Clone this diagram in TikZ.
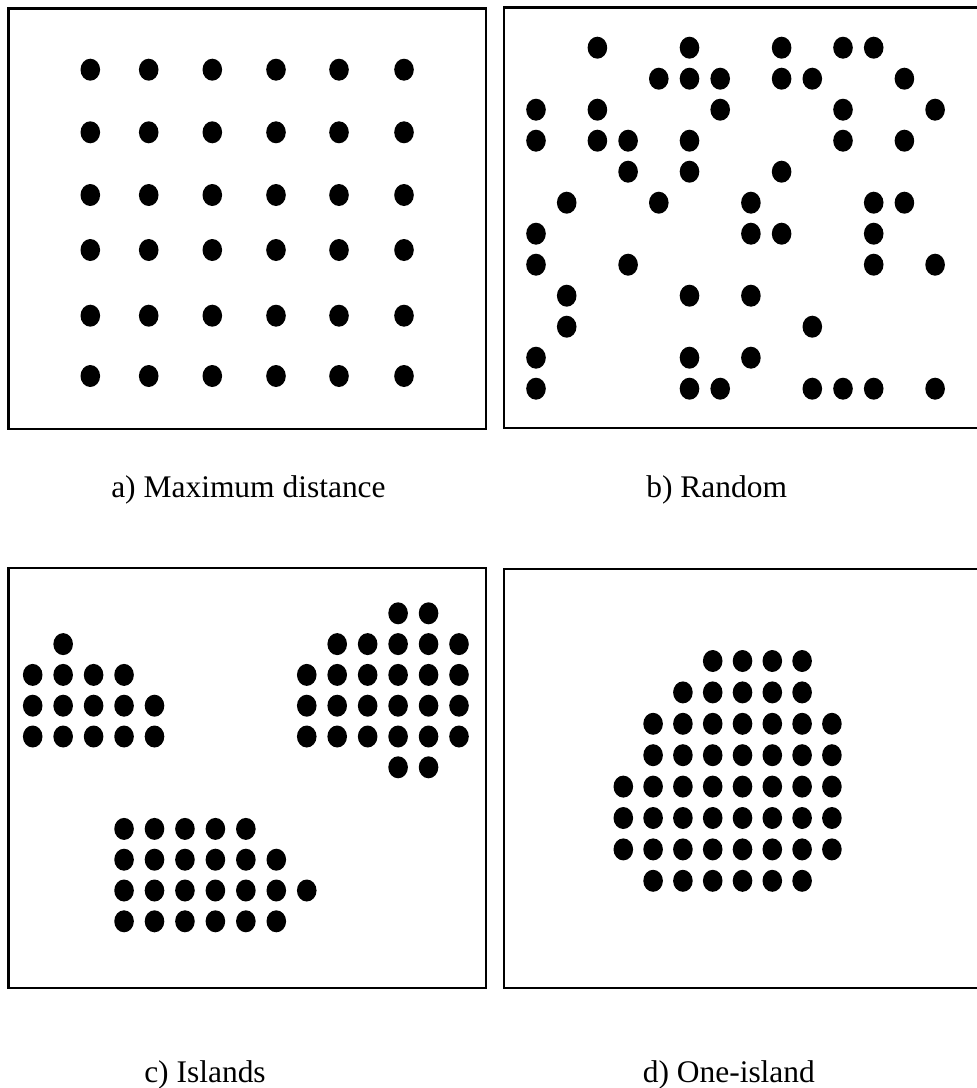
\documentclass[tikz,border=0pt]{standalone}
\usepackage{fontspec}
\setmainfont{Liberation Serif}
\begin{document}
\begin{tikzpicture}[x=0.75pt,y=-0.75pt,
  panelbox/.style={draw=black,line width=1.9pt},
  dotshape/.style={fill=black},
  caption/.style={inner sep=0pt,anchor=base west,font=\fontsize{23.6}{28}\selectfont}]
\useasboundingbox (0,0) rectangle (977,1088);
\begin{scope}
\clip (0,0) rectangle (977,1088);
% boxes
\draw[panelbox] (8.5,8.5) rectangle (486,429);
\draw[panelbox] (504,7.5) rectangle (985,428);
\draw[panelbox] (8.5,568) rectangle (486,988);
\draw[panelbox] (504,569) rectangle (985,988);
\end{scope}
% panel a
\foreach \xx in {90.3,148.7,212.3,276,339,404}
  \foreach \yy in {69.7,132.3,195,250,315.7,376}
    \fill[dotshape] (\xx,\yy) ellipse [x radius=7.35pt, y radius=8.25pt];
% panel b
\foreach \rr/\cols in {0/{2,5,8,10,11},1/{4,5,6,8,9,12},2/{0,2,6,10,13},3/{0,2,3,5,10,12},
  4/{3,5,8},5/{1,4,7,11,12},6/{0,7,8,11},7/{0,3,11,13},8/{1,5,7},9/{1,9},10/{0,5,7},
  11/{0,5,6,9,10,11,13}}
  \foreach \cc in \cols
    \fill[dotshape] ({536+30.7*\cc},{47.7+31.0*\rr}) ellipse [x radius=7.35pt, y radius=8.25pt];
% panel c
\foreach \rr/\cols in {0/{12,13},1/{1,10,11,12,13,14},2/{0,1,2,3,9,10,11,12,13,14},
  3/{0,1,2,3,4,9,10,11,12,13,14},4/{0,1,2,3,4,9,10,11,12,13,14},5/{12,13},
  7/{3,4,5,6,7},8/{3,4,5,6,7,8},9/{3,4,5,6,7,8,9},10/{3,4,5,6,7,8}}
  \foreach \cc in \cols
    \fill[dotshape] ({32.7+30.45*\cc},{613.3+30.8*\rr}) ellipse [x radius=7.35pt, y radius=8.25pt];
% panel d
\foreach \rr/\cols in {0/{3,4,5,6},1/{2,3,4,5,6},2/{1,2,3,4,5,6,7},3/{1,2,3,4,5,6,7},
  4/{0,1,2,3,4,5,6,7},5/{0,1,2,3,4,5,6,7},6/{0,1,2,3,4,5,6,7},7/{1,2,3,4,5,6}}
  \foreach \cc in \cols
    \fill[dotshape] ({623.3+29.8*\cc},{661+31.4*\rr}) ellipse [x radius=7.35pt, y radius=8.25pt];
% captions
\node[caption] (capa) at (111,497) {a) Maximum distance};
\node[caption] (capb) at (646,497) {b) Random};
\node[caption] (capc) at (144,1082) {c) Islands};
\node[caption] (capd) at (642.5,1082) {d) One-island};
\end{tikzpicture}
\end{document}
